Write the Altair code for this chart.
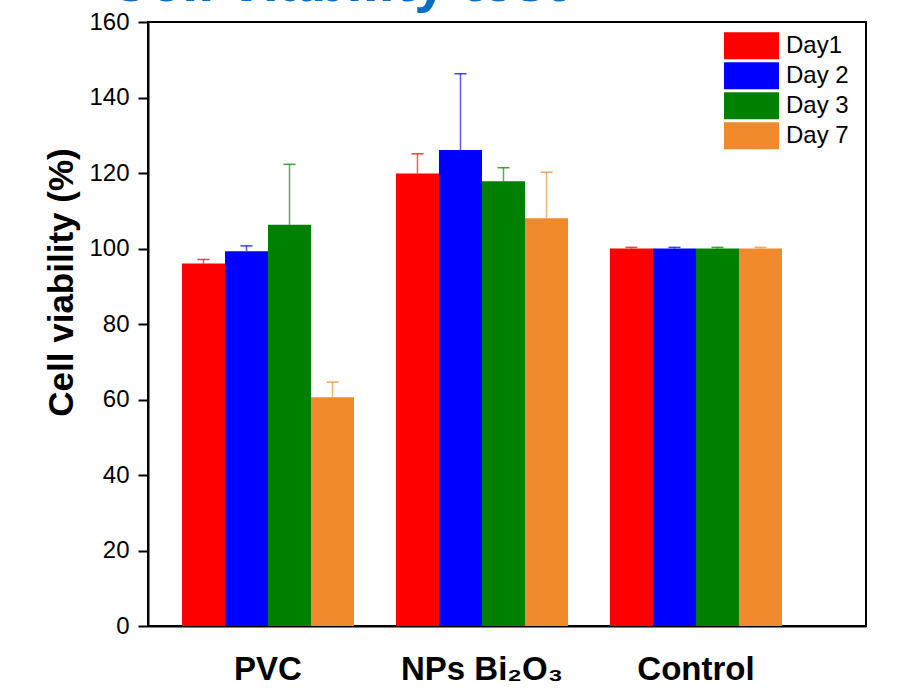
import altair as alt
import pandas as pd

groups = ["PVC", "NPs Bi₂O₃", "Control"]
days = ["Day1", "Day 2", "Day 3", "Day 7"]
colors = ["#FF0000", "#0000FF", "#008000", "#F08A2C"]

pvc_vals = [96.0, 99.3, 106.3, 60.6]
pvc_err = [1.1, 1.4, 16.0, 4.0]
nps_vals = [119.9, 126.1, 117.8, 108.0]
nps_err = [5.2, 20.2, 3.6, 12.2]
ctrl_vals = [100.0, 100.0, 100.0, 100.0]
ctrl_err = [0.3, 0.3, 0.3, 0.3]

y_ticks = list(range(0, 161, 10))
title_text = "Cell viability test"

rows = []
for g, vals, errs in zip(groups, [pvc_vals, nps_vals, ctrl_vals], [pvc_err, nps_err, ctrl_err]):
    for d, v, e in zip(days, vals, errs):
        rows.append({"group": g, "day": d, "value": v, "upper": v + e})
df = pd.DataFrame(rows)

FONT = "Liberation Sans"
NARROW = "Liberation Sans Narrow, Liberation Sans"

x_enc = alt.X("group:N", sort=groups, title=None,
              scale=alt.Scale(paddingInner=0.196, paddingOuter=0.2757, align=0.288),
              axis=alt.Axis(labelAngle=0, ticks=False, tickSize=0, labelFont=FONT,
                            labelFontSize=33, labelFontWeight="bold", labelColor="black",
                            labelBaseline="alphabetic", labelPadding=53,
                            domainColor="black", domainWidth=2))
xo_enc = alt.XOffset("day:N", sort=days, scale=alt.Scale(paddingInner=0, paddingOuter=0))
color_scale = alt.Scale(domain=days, range=colors)

base = alt.Chart(df)

bars = base.mark_bar().encode(
    x=x_enc,
    xOffset=xo_enc,
    y=alt.Y("value:Q", scale=alt.Scale(domain=[0, 160], nice=False, zero=True),
            title="Cell viability (%)",
            axis=alt.Axis(values=y_ticks, grid=False,
                          labelExpr="datum.value % 20 === 0 ? datum.label : ''",
                          tickSize={"condition": {"test": "datum.value % 20 === 0", "value": 10}, "value": 5},
                          tickColor="black", tickWidth=2, domainColor="black", domainWidth=2,
                          labelFont=NARROW, labelFontSize=24, labelColor="black", labelPadding=9,
                          titleFont=FONT, titleFontSize=35, titleFontWeight="bold", titleColor="black",
                          titleX=-76, titleY=260, titleAngle=-90, titleAlign="center",
                          titleBaseline="alphabetic")),
    color=alt.Color("day:N", sort=days, scale=color_scale,
                    legend=alt.Legend(title=None, orient="none", legendX=576, legendY=9,
                                      symbolType="M-1,-0.49H1V0.49H-1Z", symbolSize=3025,
                                      clipHeight=29.6, rowPadding=0, padding=0,
                                      labelFont=FONT, labelFontSize=24, labelColor="black",
                                      labelOffset=7, symbolStrokeWidth=0, symbolOpacity=1)),
)

err_rule = base.mark_rule(strokeWidth=1.5, opacity=0.65).encode(
    x=alt.X("group:N", sort=groups),
    xOffset=alt.XOffset("day:N", sort=days),
    y="value:Q",
    y2="upper:Q",
    color=alt.Color("day:N", sort=days, scale=color_scale, legend=None),
)

err_cap = base.mark_tick(size=12, thickness=1.5, opacity=0.75).encode(
    x=alt.X("group:N", sort=groups),
    xOffset=alt.XOffset("day:N", sort=days),
    y="upper:Q",
    color=alt.Color("day:N", sort=days, scale=color_scale, legend=None),
)

title = alt.Chart(pd.DataFrame({"t": [title_text]})).mark_text(
    align="left", baseline="alphabetic", font=FONT, fontSize=58, fontWeight="bold",
    color="#0A6FC2"
).encode(x=alt.value(-40), y=alt.value(-21), text="t:N")

chart = alt.layer(bars, err_rule, err_cap, title).properties(
    width=718, height=604,
    autosize=alt.AutoSizeParams(type="none"),
    padding={"left": 148, "top": 22, "right": 34, "bottom": 63},
).configure_view(stroke="black", strokeWidth=2)

chart.save("out.html", embed_options={"renderer": "svg", "actions": False})
